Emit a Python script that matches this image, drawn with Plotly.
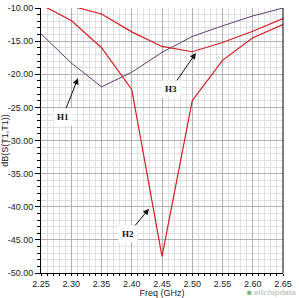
import plotly.graph_objects as go

freq = [2.25, 2.30, 2.35, 2.40, 2.45, 2.50, 2.55, 2.60, 2.65]
h1 = [-13.9, -18.3, -21.9, -19.7, -16.7, -14.3, -12.7, -11.2, -10.0]
h2 = [-9.5, -11.9, -16.0, -22.3, -47.5, -24.0, -17.9, -14.5, -12.5]
h3 = [-8.5, -9.7, -10.9, -13.6, -15.8, -16.6, -15.2, -13.5, -11.6]

yticks = [-10, -15, -20, -25, -30, -35, -40, -45, -50]
ytick_text = ["-10.00", "-15.00", "-20.00", "-25.00", "-30.00", "-35.00", "-40.00", "-45.00", "-50.00"]
xticks = [2.25, 2.30, 2.35, 2.40, 2.45, 2.50, 2.55, 2.60, 2.65]
xtick_text = ["2.25", "2.30", "2.35", "2.40", "2.45", "2.50", "2.55", "2.60", "2.65"]

labels = ["H1", "H2", "H3"]
label_head = [(2.311, -20.6), (2.4285, -40.3), (2.506, -16.8)]
label_pos = [(2.286, -26.4), (2.394, -44.1), (2.465, -22.2)]

fig = go.Figure()
fig.add_trace(go.Scatter(x=freq, y=h1, mode="lines", line=dict(color="#5e3f6e", width=1)))
fig.add_trace(go.Scatter(x=freq, y=h2, mode="lines", line=dict(color="#d41e24", width=1.2)))
fig.add_trace(go.Scatter(x=freq, y=h3, mode="lines", line=dict(color="#d41e24", width=1.2)))

for lab, (hx, hy), (tx, ty) in zip(labels, label_head, label_pos):
    fig.add_annotation(x=hx, y=hy, ax=tx, ay=ty, axref="x", ayref="y",
                       text="<b>%s</b>" % lab, showarrow=True, arrowhead=2,
                       arrowsize=1.2, arrowwidth=1, arrowcolor="#111111",
                       font=dict(family="Liberation Serif", size=9, color="#111111"),
                       bgcolor="white", borderpad=3)

fig.add_annotation(x=1.056, y=-0.094, xref="paper", yref="paper", xanchor="right", yanchor="bottom",
                   text="<span style='color:#7fb27f'>■</span> <b>allchipdata</b>", showarrow=False, borderpad=0,
                   font=dict(family="Liberation Sans", size=8, color="#c4ccc4"))

fig.update_layout(
    width=299, height=298,
    margin=dict(l=41, r=16, t=8, b=25),
    paper_bgcolor="white", plot_bgcolor="white",
    showlegend=False,
    font=dict(family="Liberation Sans", size=9, color="#222222"),
    xaxis=dict(range=[2.25, 2.65], tickvals=xticks, ticktext=xtick_text, automargin=False,
               showgrid=True, gridcolor="#b0b0b0", gridwidth=1,
               minor=dict(dtick=0.01, showgrid=True, gridcolor="#e0e0e0", ticks="outside", ticklen=2, tickcolor="black"),
               ticks="outside", ticklen=2, tickcolor="black",
               showline=True, linecolor="black", linewidth=1, zeroline=False,
               title=dict(text="Freq (GHz)", font=dict(size=9), standoff=0),
               tickfont=dict(size=9)),
    yaxis=dict(range=[-50, -10], tickvals=yticks, ticktext=ytick_text, automargin=False,
               showgrid=True, gridcolor="#b0b0b0", gridwidth=1,
               minor=dict(dtick=1, showgrid=True, gridcolor="#e0e0e0", ticks="outside", ticklen=3, tickcolor="black"),
               ticks="outside", ticklen=5, tickcolor="black",
               showline=True, linecolor="black", linewidth=1, mirror=False, zeroline=False,
               title=dict(text="dB(S(T1,T1))", font=dict(size=9), standoff=0),
               tickfont=dict(size=9)),
)
fig.add_shape(type="line", xref="paper", yref="paper", x0=1, x1=1, y0=0, y1=1,
              line=dict(color="black", width=1))

fig.write_html("out.html")
